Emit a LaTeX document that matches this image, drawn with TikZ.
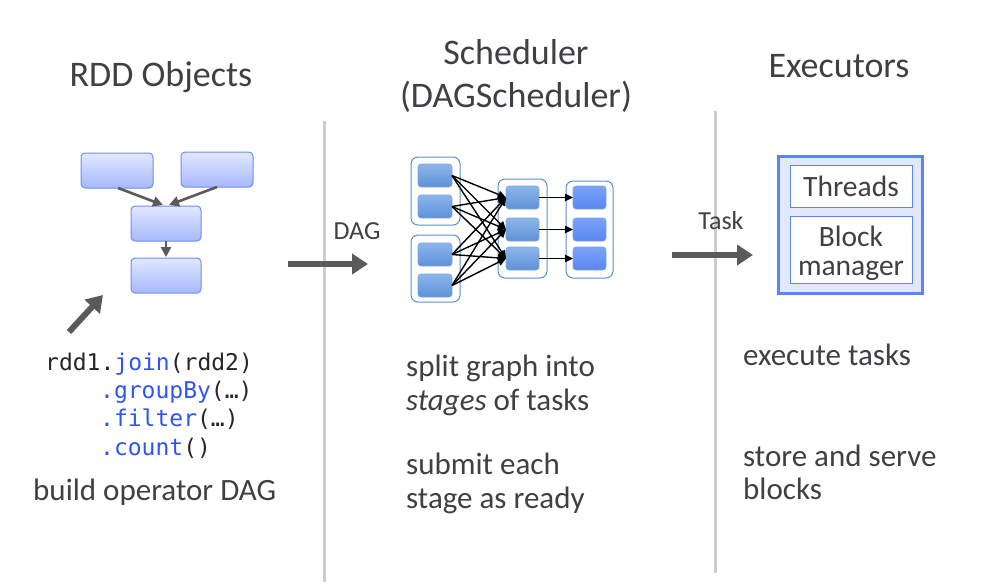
\documentclass[tikz,border=0pt]{standalone}
\usepackage{fontspec}
\setmainfont{Carlito}
\newfontfamily\codefont{DejaVu Sans Mono}
\usetikzlibrary{arrows.meta,positioning,calc}
\definecolor{txt}{HTML}{3F3F46}
\definecolor{rddtop}{HTML}{E2E8FF}
\definecolor{rddbot}{HTML}{A6B9FB}
\definecolor{rddline}{HTML}{6E8EF2}
\definecolor{schtop}{HTML}{8DB6EC}
\definecolor{schbot}{HTML}{5D91D6}
\definecolor{schline}{HTML}{5B8FCF}
\definecolor{lasttop}{HTML}{7AA3F8}
\definecolor{lastbot}{HTML}{5A86F0}
\definecolor{execfill}{HTML}{E2E8FB}
\definecolor{execline}{HTML}{5C84F2}
\definecolor{arrowgray}{HTML}{5A5A5A}
\definecolor{divider}{HTML}{CCCCCC}
\definecolor{codeblue}{HTML}{2F55F0}
\definecolor{codeblack}{HTML}{262626}
\tikzset{
  rddbox/.style={draw=rddline, line width=1pt, rounded corners=4pt, top color=rddtop, bottom color=rddbot},
  schbox/.style={draw=schline!80, line width=0.6pt, rounded corners=3pt, top color=schtop, bottom color=schbot},
  lastbox/.style={draw=schline!80, line width=0.6pt, rounded corners=3pt, top color=lasttop, bottom color=lastbot},
  container/.style={draw=schline, line width=1pt, rounded corners=7pt, fill=white},
  smallarrow/.style={draw=arrowgray, line width=2.6pt, -{Triangle[length=10pt,width=10pt]}},
  bigarrow/.style={draw=arrowgray, line width=6pt, -{Triangle[length=16pt,width=20pt]}},
  dagarrow/.style={draw=black, line width=1.4pt, -{Triangle[length=8pt,width=7.5pt]}},
  title/.style={text=txt, font=\fontsize{36}{42}\selectfont, anchor=base},
  body/.style={text=txt, font=\fontsize{31}{36}\selectfont, anchor=base west, inner sep=0pt},
  code/.style={text=codeblack, font=\codefont\fontsize{23}{27}\selectfont, anchor=base west, inner sep=0pt},
  small/.style={text=txt, font=\fontsize{26}{30}\selectfont, anchor=base},
  inner/.style={text=txt, font=\fontsize{29.5}{34}\selectfont, anchor=base},
  divline/.style={draw=divider, line width=3pt},
}
\begin{document}
\begin{tikzpicture}[x=1pt,y=-1pt]
\useasboundingbox (0,0) rectangle (992,584);
% dividers
\coordinate (d1t) at (324.5,121); \coordinate (d1b) at (324.5,582);
\coordinate (d2t) at (715.5,111); \coordinate (d2b) at (715.5,573);
\draw[divline] (d1t) -- (d1b);
\draw[divline] (d2t) -- (d2b);
% titles
\node[title] (t1) at (161,86) {RDD Objects};
\node[title] (t2) at (516,64) {Scheduler};
\node[title] (t3) at (516,107) {(DAGScheduler)};
\node[title] (t4) at (839,77) {Executors};
% RDD graph
\path[rddbox] (81,153) rectangle (153,188) node[midway] (r1) {};
\path[rddbox] (181,152) rectangle (253,187) node[midway] (r2) {};
\path[rddbox] (131,206) rectangle (201,241) node[midway] (r3) {};
\path[rddbox] (131,258) rectangle (201,293) node[midway] (r4) {};
\coordinate (r1s) at (118,188); \coordinate (r2s) at (217,187);
\coordinate (r3n) at (166,205); \coordinate (r3s) at (166,241); \coordinate (r4n) at (166,257);
\draw[smallarrow] (r1s) -- ($(r3n)+(-3,0)$);
\draw[smallarrow] (r2s) -- ($(r3n)+(3,0)$);
\draw[smallarrow] (r3s) -- (r4n);
\coordinate (ba1) at (69,332); \coordinate (ba2) at (103,295);
\draw[bigarrow] (ba1) -- (ba2);
% code
\node[code] (c1) at (45,370) {rdd1.\textcolor{codeblue}{join}(rdd2)};
\node[code] (c2) at (100,398) {\textcolor{codeblue}{.groupBy}(…)};
\node[code] (c3) at (100,426) {\textcolor{codeblue}{.filter}(…)};
\node[code] (c4) at (100,455) {\textcolor{codeblue}{.count}()};
\node[body] (b1) at (33,500) {build operator DAG};
% DAG arrow
\coordinate (da1) at (288,264); \coordinate (da2) at (368,264);
\draw[bigarrow] (da1) -- (da2);
\node[small] (dagl) at (357,239) {DAG};
% scheduler stages
\draw[container] (411,157) rectangle (460,225);
\draw[container] (411,235) rectangle (460,302);
\draw[container] (498,179) rectangle (547,278);
\draw[container] (566,181) rectangle (613,278);
\foreach \n/\y in {a/164,b/195,c/243,d/274}{
  \path[schbox] (418,\y) rectangle (452,\y+23);
  \coordinate (s\n) at (452,\y+11.5);
}
\foreach \n/\y in {1/186,2/218,3/247}{
  \path[schbox] (506,\y) rectangle (539,\y+23);
  \coordinate (m\n) at (506,\y+11.5);
  \coordinate (m\n o) at (539,\y+11.5);
  \path[lastbox] (573,\y) rectangle (606,\y+23);
  \coordinate (l\n) at (573,\y+11.5);
}
\foreach \s in {a,b,c,d}{
  \foreach \m in {1,2,3}{
    \draw[dagarrow] (s\s) -- (m\m);
  }
}
\foreach \m in {1,2,3}{ \draw[dagarrow] (m\m o) -- (l\m); }
\node[body] (s1) at (406,376) {split graph into};
\node[body] (s2) at (406,410) {\textit{stages} of tasks};
\node[body] (s3) at (406,474) {submit each};
\node[body] (s4) at (406,508) {stage as ready};
% Task arrow
\coordinate (ta1) at (672,255); \coordinate (ta2) at (753,255);
\draw[bigarrow] (ta1) -- (ta2);
\node[small] (taskl) at (721,229) {Task};
% executors
\draw[draw=execline, line width=3pt, fill=execfill] (778,156) rectangle (922,293);
\draw[draw=execline, line width=1pt, fill=white] (790,165) rectangle (912,207);
\draw[draw=execline, line width=1pt, fill=white] (790,216) rectangle (912,283);
\node[inner] (thr) at (851,196) {Threads};
\node[inner] (blk) at (851,246) {Block};
\node[inner] (mgr) at (851,275) {manager};
\node[body] (e1) at (743,365) {execute tasks};
\node[body] (e2) at (743,466) {store and serve};
\node[body] (e3) at (743,499) {blocks};
\end{tikzpicture}
\end{document}
